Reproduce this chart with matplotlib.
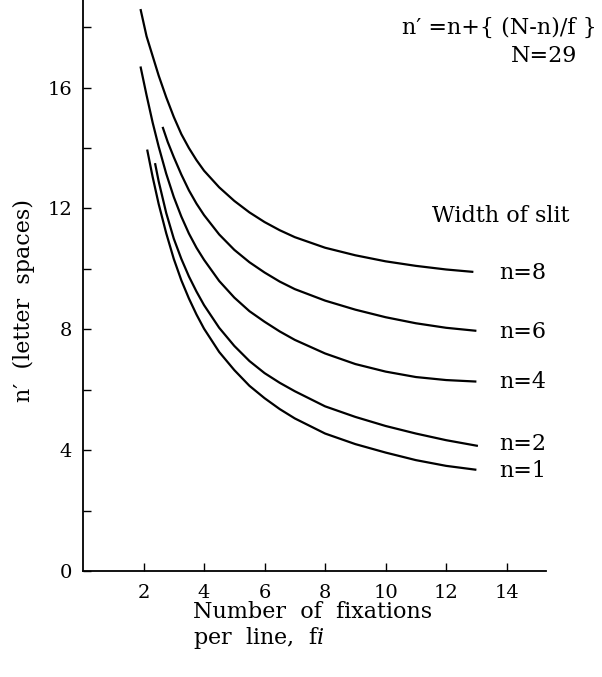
import matplotlib
matplotlib.use("Agg")
import matplotlib.pyplot as plt

# ---- data ----
f_n8 = [1.9, 2.1, 2.3, 2.5, 2.75, 3.0, 3.25, 3.5, 3.75, 4.0, 4.5, 5.0, 5.5, 6.0, 6.5, 7.0, 8.0, 9.0, 10.0, 11.0, 12.0, 12.9]
v_n8 = [18.6, 17.7, 17.05, 16.4, 15.68, 15.03, 14.46, 14.0, 13.6, 13.25, 12.7, 12.25, 11.87, 11.55, 11.28, 11.05, 10.7, 10.45, 10.25, 10.1, 9.98, 9.9]

f_n6 = [2.63, 2.8, 3.0, 3.25, 3.5, 3.75, 4.0, 4.5, 5.0, 5.5, 6.0, 6.5, 7.0, 8.0, 9.0, 10.0, 11.0, 12.0, 13.0]
v_n6 = [14.7, 14.2, 13.7, 13.12, 12.6, 12.16, 11.78, 11.14, 10.63, 10.22, 9.88, 9.58, 9.33, 8.95, 8.65, 8.4, 8.2, 8.05, 7.95]

f_n4 = [1.9, 2.1, 2.3, 2.5, 2.75, 3.0, 3.25, 3.5, 3.75, 4.0, 4.5, 5.0, 5.5, 6.0, 6.5, 7.0, 8.0, 9.0, 10.0, 11.0, 12.0, 13.0]
v_n4 = [16.7, 15.75, 14.85, 14.05, 13.15, 12.38, 11.73, 11.17, 10.7, 10.3, 9.6, 9.05, 8.6, 8.25, 7.93, 7.65, 7.2, 6.85, 6.6, 6.42, 6.32, 6.27]

f_n2 = [2.38, 2.5, 2.75, 3.0, 3.25, 3.5, 3.75, 4.0, 4.5, 5.0, 5.5, 6.0, 6.5, 7.0, 8.0, 9.0, 10.0, 11.0, 12.0, 13.05]
v_n2 = [13.5, 12.9, 11.85, 11.0, 10.33, 9.75, 9.25, 8.8, 8.05, 7.45, 6.95, 6.55, 6.23, 5.95, 5.45, 5.1, 4.8, 4.55, 4.33, 4.14]

f_n1 = [2.12, 2.3, 2.5, 2.75, 3.0, 3.25, 3.5, 3.75, 4.0, 4.5, 5.0, 5.5, 6.0, 6.5, 7.0, 8.0, 9.0, 10.0, 11.0, 12.0, 13.0]
v_n1 = [13.95, 13.05, 12.15, 11.18, 10.33, 9.62, 9.02, 8.49, 8.02, 7.25, 6.65, 6.13, 5.72, 5.36, 5.05, 4.55, 4.2, 3.92, 3.67, 3.48, 3.35]

series = [(f_n8, v_n8), (f_n6, v_n6), (f_n4, v_n4), (f_n2, v_n2), (f_n1, v_n1)]
curve_labels = ["n=8", "n=6", "n=4", "n=2", "n=1"]
label_y = [9.85, 7.9, 6.25, 4.2, 3.3]

x_ticks = [2, 4, 6, 8, 10, 12, 14]
y_ticks = [0, 2, 4, 6, 8, 10, 12, 14, 16, 18]
y_ticklabels = ["0", "", "4", "", "8", "", "12", "", "16", ""]

plt.rcParams['font.family'] = ['DejaVu Serif']
plt.rcParams['mathtext.fontset'] = 'dejavuserif'

fig = plt.figure(figsize=(6.02, 6.77), dpi=100)
ax = fig.add_axes([83/602, 106/677, 463/602, 571/677])

for (fx, vy) in series:
    ax.plot(fx, vy, color='black', lw=1.6, solid_capstyle='butt', solid_joinstyle='round')

ax.set_xlim(0, 15.3)
ax.set_ylim(0, 18.9)
for s in ['top', 'right']:
    ax.spines[s].set_visible(False)
for s in ['left', 'bottom']:
    ax.spines[s].set_linewidth(1.3)

ax.set_xticks(x_ticks)
ax.set_xticklabels([str(t) for t in x_ticks])
ax.set_yticks(y_ticks)
ax.set_yticklabels(y_ticklabels)
ax.tick_params(axis='both', direction='in', length=6, width=1.0, labelsize=14)
ax.tick_params(axis='y', pad=8)
ax.tick_params(axis='x', pad=9)

for lab, yv in zip(curve_labels, label_y):
    ax.text(13.75, yv, lab, ha='left', va='center', fontsize=16)

ax.text(11.53, 11.75, "Width of slit", ha='left', va='center', fontsize=16)

fig.text(597/602, 1 - 28/677, "n′ =n+{ (N-n)/f }", ha='right', va='center', fontsize=16)
fig.text(577/602, 1 - 56/677, "N=29", ha='right', va='center', fontsize=16)

fig.text(24/602, 1 - 301/677, "n′  (letter  spaces)", rotation=90, ha='center', va='center', fontsize=16)
fig.text(193/602, 1 - 612/677, "Number  of  fixations", ha='left', va='center', fontsize=16)
fig.text(193/602, 1 - 638/677, r"per  line,  f$\mathit{i}$", ha='left', va='center', fontsize=16)

fig.savefig("out.png", dpi=100)
